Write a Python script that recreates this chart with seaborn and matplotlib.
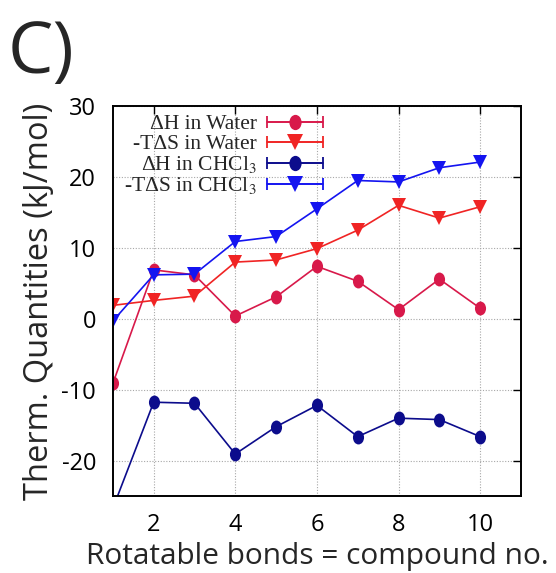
import numpy as np
import pandas as pd
import matplotlib
matplotlib.use("Agg")
import matplotlib.pyplot as plt
import seaborn as sns
from matplotlib.path import Path
from matplotlib.transforms import Affine2D
from matplotlib.lines import Line2D
from matplotlib.collections import LineCollection
from matplotlib.container import ErrorbarContainer
from matplotlib.legend_handler import HandlerErrorbar

# data
compound = [1, 2, 3, 4, 5, 6, 7, 8, 9, 10]
dH_water = [-9.1, 6.9, 6.2, 0.4, 3.1, 7.4, 5.3, 1.3, 5.6, 1.5]
TdS_water = [1.9, 2.6, 3.2, 8.0, 8.3, 9.9, 12.5, 16.0, 14.2, 15.8]
dH_chcl3 = [-26.7, -11.75, -11.9, -19.05, -15.2, -12.2, -16.6, -14.0, -14.2, -16.6]
TdS_chcl3 = [-0.3, 6.2, 6.3, 10.9, 11.6, 15.5, 19.5, 19.3, 21.3, 22.1]
series_names = ["ΔH in Water", "-TΔS in Water", "ΔH in CHCl$_3$", "-TΔS in CHCl$_3$"]
x_ticks = [2, 4, 6, 8, 10]
y_ticks = [-20, -10, 0, 10, 20, 30]

colors = ["#d8194a", "#f02424", "#0c0c8c", "#1414f0"]
# circles look a bit stretched in the original image
ellipse = Path.unit_circle().transformed(Affine2D().scale(0.8, 1.0))
markers = [ellipse, "v", ellipse, "v"]

df = pd.DataFrame({
    "x": compound * 4,
    "y": dH_water + TdS_water + dH_chcl3 + TdS_chcl3,
    "series": np.repeat(series_names, len(compound)),
})

sns.set_style("white")
plt.rcParams["mathtext.fontset"] = "stix"
plt.rcParams["axes.unicode_minus"] = False

fig = plt.figure(figsize=(5.56, 5.73), dpi=100)
ax = fig.add_axes([0.203, 0.134, 0.734, 0.681])

sns.lineplot(data=df, x="x", y="y", hue="series", style="series",
             hue_order=series_names, style_order=series_names,
             palette=dict(zip(series_names, colors)),
             markers=dict(zip(series_names, markers)), dashes=False,
             markersize=10, linewidth=1.2, markeredgewidth=0,
             legend=False, ax=ax)

ax.set_xlim(1, 11)
ax.set_ylim(-25, 30)
ax.set_xticks(x_ticks)
ax.set_yticks(y_ticks)
ax.grid(True, color="#a8a8a8", linestyle=(0, (1, 1.5)), linewidth=0.8)
ax.tick_params(direction="in", length=6, width=1, top=True, right=True,
               labeltop=False, labelright=False, labelsize=17, pad=12,
               colors="black")
for lbl in ax.get_xticklabels() + ax.get_yticklabels():
    lbl.set_family("Open Sans")
for sp in ax.spines.values():
    sp.set_color("black")
    sp.set_linewidth(1.4)

ax.set_xlabel("Rotatable bonds = compound no.", fontsize=21.5, family="Open Sans", labelpad=4)
ax.set_ylabel("Therm. Quantities (kJ/mol)", fontsize=23.5, family="Open Sans", labelpad=4)

# gnuplot style key: text right aligned, sample with error bar caps
handles = []
for c, m in zip(colors, markers):
    line = Line2D([], [], color=c, marker=m, markersize=11, markeredgewidth=0, linewidth=1.2)
    cap = Line2D([], [], color=c, marker="|", markersize=9, markeredgewidth=1.3, linestyle="none")
    bar = LineCollection([], colors=c, linewidths=1.2)
    handles.append(ErrorbarContainer((line, (cap,), (bar,)), has_xerr=True, has_yerr=False))
leg = ax.legend(handles, series_names, loc="upper right",
                bbox_to_anchor=(0.55, 1.015), frameon=False, markerfirst=False,
                handlelength=2.6, handletextpad=0.5, labelspacing=0.0,
                borderpad=0.15, numpoints=1,
                prop={"family": "Liberation Serif", "size": 15.5},
                handler_map={ErrorbarContainer: HandlerErrorbar(xerr_size=1.3)})

fig.text(0.014, 0.968, "C)", fontsize=52, family="Open Sans", va="top", ha="left")

fig.savefig("out.png", dpi=100)
